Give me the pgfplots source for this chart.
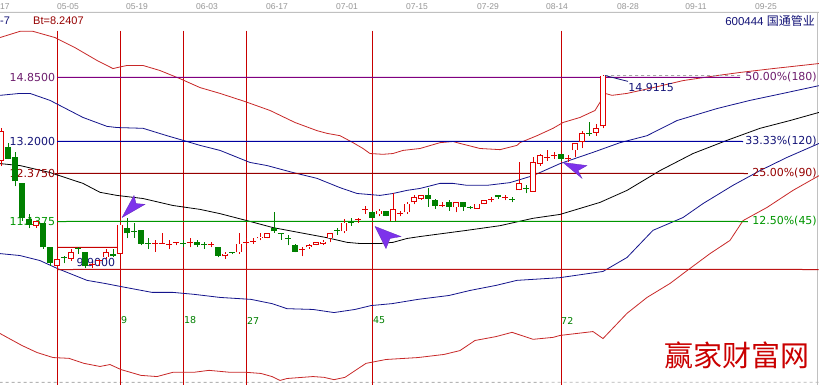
\documentclass[border=0pt]{standalone}
\usepackage{fontspec}
\setmainfont{Liberation Sans}
\newfontfamily\cjk{Noto Sans CJK SC}
\newfontfamily\dv{DejaVu Sans}
\usepackage{pgfplots}
\pgfplotsset{compat=1.18}
\definecolor{cR}{RGB}{225,0,0}
\definecolor{cG}{RGB}{0,128,0}
\definecolor{cUp}{RGB}{200,40,40}
\definecolor{cBl}{RGB}{20,20,140}
\definecolor{cPurp}{RGB}{128,0,128}
\definecolor{cPurpT}{RGB}{110,30,110}
\definecolor{cLB}{RGB}{0,0,160}
\definecolor{cLBT}{RGB}{20,20,120}
\definecolor{cDR}{RGB}{150,0,0}
\definecolor{cLG}{RGB}{0,150,0}
\definecolor{cV}{RGB}{200,0,0}
\definecolor{cBase}{RGB}{190,20,20}
\definecolor{cArr}{RGB}{125,50,235}
\definecolor{cGray}{RGB}{150,150,150}
\newcommand{\KG}[5]{%
 \addplot[color=cG, line width=0.9pt] coordinates {(#1,#2)(#1,#5)};
 \ifdim #3pt=#4pt
   \addplot[color=cG, only marks, mark=-, mark size=2.7pt, mark options={line width=1pt}] coordinates {(#1,#3)};
 \else
   \addplot[color=cG, line width=5.4pt] coordinates {(#1,#3)(#1,#4)};
 \fi}
\newcommand{\KR}[5]{%
 \addplot[color=cR, line width=0.9pt] coordinates {(#1,#2)(#1,#5)};
 \ifdim #3pt=#4pt
   \addplot[color=cR, only marks, mark=-, mark size=2.7pt, mark options={line width=1pt}] coordinates {(#1,#3)};
 \else
   \addplot[color=cR, line width=5.4pt] coordinates {(#1,#3)(#1,#4)};
   \addplot[color=white, line width=3.6pt, shorten <=0.9pt, shorten >=0.9pt] coordinates {(#1,#3)(#1,#4)};
 \fi}
\newcommand{\DT}[2]{\node[inner sep=0pt, text=cGray, font=\fontsize{8.5}{10}\selectfont] at (axis cs:#1,16.68) {#2};}
\newcommand{\NB}[2]{\node[anchor=west, inner sep=0pt, text=cG, font=\dv\fontsize{9.5}{10}\selectfont] at (axis cs:#1,8.585) {#2};}
\begin{document}
\begin{tikzpicture}
\begin{axis}[
  scale only axis, width=819pt, height=384pt,
  xmin=-8.143, xmax=108.857, ymin=6.948, ymax=16.848,
  axis line style={draw=none}, xtick=\empty, ytick=\empty,
  axis background/.style={fill=white},
]
% frame lines
\addplot[color=cGray!60, line width=1pt] coordinates {(-8.2,16.526)(108.9,16.527)};
\addplot[color=cGray!60, line width=1pt] coordinates {(108.64,16.526)(108.64,6.9)};
\addplot[color=cGray!70, line width=0.8pt, dashed] coordinates {(-8.2,6.99)(108.9,6.991)};
% vertical time lines
\addplot[color=cV, line width=0.9pt] coordinates {(0,16.06)(0,6.9)};
\addplot[color=cV, line width=0.9pt] coordinates {(9,16.06)(9,6.9)};
\addplot[color=cV, line width=0.9pt] coordinates {(18,16.06)(18,6.9)};
\addplot[color=cV, line width=0.9pt] coordinates {(27,16.06)(27,6.9)};
\addplot[color=cV, line width=0.9pt] coordinates {(45,16.06)(45,6.9)};
\addplot[color=cV, line width=0.9pt] coordinates {(72,16.06)(72,6.9)};
% bands
\addplot[color=cUp, line width=0.8pt] coordinates {(-8.14,15.88)(-5.29,16.04)(-3.43,16.04)(-0.29,15.88)(2.57,15.62)(5.71,15.29)(8.0,15.08)(8.71,15.11)(10.0,15.16)(12.29,15.16)(14.71,15.03)(17.57,14.82)(20.43,14.59)(23.29,14.44)(26.86,14.23)(30.43,14.00)(34.0,13.69)(37.14,13.48)(38.57,13.41)(40.43,13.35)(42.29,13.17)(43.71,13.02)(44.71,12.89)(46.57,12.87)(48.0,12.89)(49.43,12.97)(51.86,13.02)(54.71,13.17)(56.57,13.20)(57.57,13.15)(60.43,13.02)(63.29,12.99)(65.71,13.10)(66.14,13.17)(68.57,13.35)(70.86,13.54)(72.29,13.69)(74.71,13.82)(76.86,14.00)(77.57,14.21)(78.29,14.44)(79.29,14.39)(81.43,14.44)(84.71,14.57)(89.43,14.77)(94.29,14.90)(97.57,14.98)(102.29,15.08)(108.86,15.21)};
\addplot[color=cBl, line width=0.8pt] coordinates {(-8.14,14.39)(-5.29,14.44)(-3.86,14.44)(-1.0,14.26)(3.71,13.82)(7.14,13.59)(8.57,13.56)(12.29,13.54)(15.71,13.35)(18.0,13.23)(20.43,13.10)(23.29,12.97)(27.57,12.66)(30.0,12.58)(33.71,12.40)(37.14,12.25)(40.43,12.01)(42.86,11.86)(46.14,11.81)(48.0,11.86)(50.0,11.94)(51.86,11.99)(54.71,12.12)(56.57,12.12)(58.57,12.07)(61.43,12.07)(64.71,12.14)(68.0,12.32)(71.86,12.63)(76.57,12.92)(80.43,13.17)(84.29,13.35)(88.57,13.74)(94.29,14.05)(99.0,14.26)(103.71,14.44)(108.86,14.64)};
\addplot[color=black, line width=0.8pt] coordinates {(-8.14,12.63)(-5.29,12.58)(-1.0,12.40)(3.71,12.12)(6.14,11.89)(8.57,11.81)(12.29,11.73)(16.57,11.55)(20.43,11.45)(23.29,11.34)(27.14,11.16)(30.86,10.98)(34.71,10.85)(38.57,10.72)(41.43,10.60)(43.29,10.57)(46.14,10.57)(48.0,10.60)(50.0,10.70)(51.86,10.75)(58.57,10.91)(63.29,11.03)(68.0,11.22)(71.86,11.32)(77.57,11.63)(81.43,11.94)(86.14,12.45)(90.86,12.89)(95.71,13.23)(100.43,13.54)(104.71,13.74)(108.86,13.95)};
\addplot[color=cBl, line width=0.8pt] coordinates {(-8.14,10.31)(-5.29,10.26)(-2.43,10.13)(0,9.93)(4.29,9.62)(6.86,9.54)(9.14,9.46)(13.57,9.31)(16.57,9.31)(19.57,9.26)(23.29,9.18)(27.71,9.13)(30.71,9.02)(32.86,8.89)(36.57,8.87)(39.57,8.79)(42.57,8.87)(44.86,8.97)(47.86,9.02)(51.57,9.13)(56.0,9.23)(59.0,9.36)(62.71,9.49)(65.71,9.62)(70.14,9.67)(71.86,9.69)(78.0,9.85)(81.43,10.21)(85.14,10.91)(89.43,11.24)(92.29,11.60)(96.57,12.07)(100.43,12.45)(104.29,12.79)(108.86,13.15)};
\addplot[color=cUp, line width=0.8pt] coordinates {(-8.14,8.25)(-5.0,7.94)(-2.86,7.76)(-0.57,7.63)(1.71,7.61)(3.86,7.48)(6.14,7.40)(7.57,7.45)(9.14,7.32)(12.0,7.17)(14.29,7.14)(16.57,7.25)(19.57,7.25)(21.71,7.30)(24.71,7.25)(27.0,7.25)(29.14,7.22)(30.71,7.14)(31.86,7.04)(32.86,7.09)(36.57,7.14)(38.14,7.12)(39.57,7.06)(41.14,7.12)(44.14,7.48)(47.0,7.58)(51.57,7.63)(55.29,7.71)(57.57,7.81)(59.71,8.07)(62.71,8.17)(65.0,8.28)(68.0,8.10)(70.86,8.15)(71.86,8.20)(76.57,8.30)(78.0,8.12)(81.43,8.77)(84.29,9.18)(87.57,9.54)(90.0,9.87)(93.29,10.31)(96.14,10.65)(98.0,11.16)(101.43,11.50)(105.14,11.94)(108.86,12.32)};
% level lines
\addplot[color=cPurp, line width=1pt] coordinates {(0,14.85)(48.8,14.851)(97.57,14.85)};
\addplot[color=cLB, line width=1pt] coordinates {(0,13.2)(49,13.201)(98.0,13.2)};
\addplot[color=cDR, line width=1pt] coordinates {(-0.3,12.375)(49.2,12.376)(98.71,12.375)};
\addplot[color=cLG, line width=1pt] coordinates {(0,11.1375)(49.3,11.1385)(98.71,11.1375)};
\addplot[color=cBase, line width=1pt] coordinates {(0,9.90)(54.4,9.901)(108.8,9.90)};
\addplot[color=cV, line width=1pt] coordinates {(0,10.47)(4.5,10.471)(9,10.47)};
\addplot[color=gray!70, line width=0.8pt, dashed] coordinates {(78.3,14.90)(97.57,14.901)};
\addplot[color=cLBT, line width=0.8pt] coordinates {(78.29,14.90)(81.57,14.75)};
% texts
\node[anchor=west, inner sep=0pt, text=cGray, font=\fontsize{8.5}{10}\selectfont] at (axis cs:-8.14,16.68) {17};
\DT{1.57}{05-05}
\DT{11.43}{05-19}
\DT{21.43}{06-03}
\DT{31.43}{06-17}
\DT{41.43}{07-01}
\DT{51.43}{07-15}
\DT{61.57}{07-29}
\DT{71.43}{08-14}
\DT{81.57}{08-28}
\DT{91.29}{09-11}
\DT{101.29}{09-25}
\node[anchor=west, inner sep=0pt, text=cLBT, font=\fontsize{11}{12}\selectfont] at (axis cs:-8.14,16.32) {-7};
\node[anchor=west, inner sep=0pt, text=cDR, font=\fontsize{11}{12}\selectfont] at (axis cs:-3.43,16.32) {Bt=8.2407};
\node[anchor=east, inner sep=0pt, text=cLBT, font=\fontsize{11.5}{12}\selectfont] at (axis cs:108.29,16.32) {600444 {\cjk\fontsize{12}{12}\selectfont 国通管业}};
\node[anchor=east, inner sep=0pt, text=cPurpT, font=\dv\fontsize{11}{12}\selectfont] at (axis cs:-0.25,14.85) {14.8500};
\node[anchor=east, inner sep=0pt, text=cLBT, font=\dv\fontsize{11}{12}\selectfont] at (axis cs:-0.25,13.2) {13.2000};
\node[anchor=east, inner sep=0pt, text=cDR, font=\dv\fontsize{11}{12}\selectfont] at (axis cs:-0.25,12.375) {12.3750};
\node[anchor=east, inner sep=0pt, text=cLG, font=\dv\fontsize{11}{12}\selectfont] at (axis cs:-0.25,11.1375) {11.1375};
\node[inner sep=0pt, text=cLBT, font=\dv\fontsize{11}{12}\selectfont] at (axis cs:5.57,10.08) {9.9000};
\node[inner sep=0pt, text=cLBT, font=\dv\fontsize{11}{12}\selectfont] at (axis cs:84.86,14.59) {14.9115};
\node[anchor=east, inner sep=0pt, text=cPurpT, font=\dv\fontsize{11}{12}\selectfont] at (axis cs:108.57,14.85) {50.00\%(180)};
\node[anchor=east, inner sep=0pt, text=cLBT, font=\dv\fontsize{11}{12}\selectfont] at (axis cs:108.57,13.2) {33.33\%(120)};
\node[anchor=east, inner sep=0pt, text=cDR, font=\dv\fontsize{11}{12}\selectfont] at (axis cs:108.57,12.375) {25.00\%(90)};
\node[anchor=east, inner sep=0pt, text=cLG, font=\dv\fontsize{11}{12}\selectfont] at (axis cs:108.57,11.1375) {12.50\%(45)};
\NB{9.14}{9}
\NB{18.14}{18}
\NB{27.14}{27}
\NB{45.14}{45}
\NB{72.0}{72}
\node[inner sep=0pt, text=cR!90!black, font=\cjk\fontsize{29}{32}\selectfont] at (axis cs:97.14,7.68) {赢家财富网};
% candles
\KR{-8}{12.58}{12.71}{13.48}{13.54}
\KG{-7}{12.74}{12.76}{13.05}{13.17}
\KG{-6}{12.04}{12.17}{12.79}{12.92}
\KG{-5}{11.16}{11.22}{12.12}{12.12}
\KG{-4}{10.96}{11.06}{11.19}{11.34}
\KR{-3}{10.98}{11.03}{11.14}{11.16}
\KG{-2}{10.44}{10.47}{11.11}{11.11}
\KG{-1}{10.00}{10.08}{10.49}{10.49}
\KR{0}{9.90}{9.98}{10.16}{10.21}
\KG{1}{10.06}{10.21}{10.21}{10.26}
\KR{2}{10.13}{10.18}{10.34}{10.44}
\KG{3}{10.31}{10.44}{10.44}{10.49}
\KG{4}{9.93}{9.98}{10.36}{10.36}
\KR{5}{9.93}{10.03}{10.03}{10.08}
\KR{6}{10.00}{10.13}{10.13}{10.13}
\KR{7}{10.18}{10.21}{10.34}{10.42}
\KG{8}{10.21}{10.24}{10.31}{10.44}
\KR{9}{10.31}{10.31}{11.06}{11.09}
\KG{10}{10.70}{10.83}{10.96}{11.22}
\KG{11}{10.72}{10.88}{10.88}{11.09}
\KG{12}{10.52}{10.57}{10.91}{10.91}
\KG{13}{10.44}{10.57}{10.57}{10.70}
\KR{14}{10.36}{10.57}{10.57}{10.65}
\KR{15}{10.57}{10.57}{10.57}{10.85}
\KR{16}{10.42}{10.54}{10.54}{10.65}
\KR{17}{10.52}{10.60}{10.60}{10.62}
\KG{18}{10.47}{10.57}{10.57}{10.65}
\KR{19}{10.47}{10.60}{10.60}{10.70}
\KG{20}{10.49}{10.52}{10.62}{10.67}
\KG{21}{10.44}{10.54}{10.54}{10.60}
\KR{22}{10.47}{10.54}{10.54}{10.62}
\KG{23}{10.21}{10.26}{10.49}{10.49}
\KR{24}{10.18}{10.24}{10.31}{10.34}
\KG{25}{10.29}{10.34}{10.34}{10.36}
\KR{26}{10.31}{10.34}{10.57}{10.83}
\KR{27}{10.47}{10.60}{10.60}{10.70}
\KR{28}{10.57}{10.62}{10.62}{10.72}
\KR{29}{10.65}{10.70}{10.75}{10.83}
\KR{30}{10.70}{10.72}{10.83}{10.85}
\KG{31}{10.85}{10.88}{10.96}{11.37}
\KG{32}{10.67}{10.83}{10.83}{10.85}
\KG{33}{10.52}{10.70}{10.70}{10.78}
\KG{34}{10.34}{10.36}{10.52}{10.57}
\KR{35}{10.24}{10.42}{10.42}{10.47}
\KR{36}{10.44}{10.47}{10.54}{10.57}
\KR{37}{10.52}{10.54}{10.60}{10.62}
\KR{38}{10.54}{10.57}{10.62}{10.65}
\KR{39}{10.60}{10.70}{10.83}{10.85}
\KG{40}{10.80}{10.91}{10.91}{10.98}
\KR{41}{10.83}{10.88}{11.11}{11.19}
\KG{42}{11.03}{11.11}{11.11}{11.22}
\KR{43}{11.11}{11.19}{11.19}{11.22}
\KR{44}{11.34}{11.45}{11.45}{11.55}
\KG{45}{11.22}{11.24}{11.37}{11.42}
\KR{46}{11.27}{11.32}{11.42}{11.47}
\KG{47}{11.27}{11.29}{11.40}{11.42}
\KR{48}{11.14}{11.14}{11.45}{11.86}
\KR{49}{11.27}{11.34}{11.34}{11.40}
\KR{50}{11.34}{11.37}{11.60}{11.63}
\KR{51}{11.58}{11.63}{11.76}{11.81}
\KR{52}{11.70}{11.73}{11.81}{11.83}
\KG{53}{11.52}{11.73}{11.81}{11.99}
\KG{54}{11.47}{11.55}{11.68}{11.73}
\KR{55}{11.50}{11.55}{11.55}{11.63}
\KG{56}{11.42}{11.52}{11.63}{11.68}
\KR{57}{11.37}{11.50}{11.63}{11.63}
\KG{58}{11.42}{11.50}{11.63}{11.63}
\KG{59}{11.45}{11.50}{11.50}{11.55}
\KR{60}{11.47}{11.47}{11.60}{11.60}
\KR{61}{11.58}{11.58}{11.70}{11.70}
\KR{62}{11.63}{11.70}{11.70}{11.76}
\KG{63}{11.73}{11.76}{11.83}{11.83}
\KR{64}{11.68}{11.76}{11.76}{11.83}
\KG{65}{11.63}{11.70}{11.70}{11.76}
\KR{66}{11.94}{11.94}{12.12}{12.66}
\KG{67}{11.86}{11.99}{11.99}{12.07}
\KR{68}{11.91}{11.91}{12.66}{12.79}
\KR{69}{12.58}{12.63}{12.84}{12.89}
\KR{70}{12.71}{12.79}{12.79}{12.97}
\KR{71}{12.76}{12.84}{12.84}{12.92}
\KG{72}{12.71}{12.76}{12.87}{12.89}
\KR{73}{12.66}{12.76}{12.76}{12.84}
\KR{74}{12.81}{12.97}{13.15}{13.17}
\KR{75}{13.02}{13.20}{13.41}{13.48}
\KG{76}{13.35}{13.41}{13.41}{13.69}
\KR{77}{13.35}{13.43}{13.54}{13.66}
\KR{78}{13.54}{13.59}{14.90}{14.91}
% arrows
\addplot[fill=cArr, draw=cArr!80!black, line width=0.3pt] coordinates {(9.29,11.24)(11.0,11.81)(11.29,11.60)(12.57,11.58)(9.29,11.24)};
\addplot[fill=cArr, draw=cArr!80!black, line width=0.3pt] coordinates {(45.43,11.01)(47.0,10.44)(47.57,10.70)(49.14,10.75)(45.43,11.01)};
\addplot[fill=cArr, draw=cArr!80!black, line width=0.3pt] coordinates {(72.29,12.66)(75.71,12.58)(74.43,12.45)(75.0,12.25)(72.29,12.66)};
\end{axis}
\end{tikzpicture}
\end{document}
